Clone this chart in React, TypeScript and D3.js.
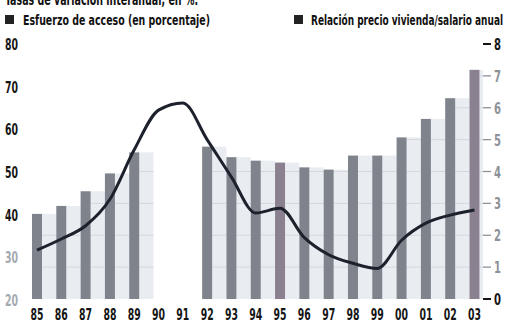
import React, { useEffect } from "react";
import * as d3 from "d3";

const years = ["85","86","87","88","89","90","91","92","93","94","95","96","97","98","99","00","01","02","03"];
// Relación precio vivienda/salario anual (bars, right axis); null = no bar
const ratio: (number | null)[] = [2.67, 2.92, 3.38, 3.94, 4.6, null, null, 4.78, 4.45, 4.34, 4.28, 4.13, 4.06, 4.5, 4.5, 5.07, 5.65, 6.3, 7.19];
// Esfuerzo de acceso (line, left axis, %)
const effort: number[] = [31.7, 34.3, 37.4, 43.6, 55.2, 64.5, 66.2, 57.6, 48.8, 40.4, 41.5, 34.6, 30.6, 28.6, 27.4, 34.0, 38.0, 39.9, 41.1];
const leftTicks = [20, 30, 40, 50, 60, 70, 80];
const rightTicks = [0, 1, 2, 3, 4, 5, 6, 7, 8];
const title = "Tasas de variación interanual, en %.";
const legendLeft = "Esfuerzo de acceso (en porcentaje)";
const legendRight = "Relación precio vivienda/salario anual";

const FONT = "'DejaVu Sans Condensed', 'Liberation Sans Narrow', 'Open Sans', sans-serif";

export default function App() {
  useEffect(() => {
    document.body.style.margin = "0";
  }, []);

  const x = d3.scalePoint<string>().domain(years).range([37, 474.5]);
  const step = x.step();
  const yL = d3.scaleLinear().domain([20, 80]).range([300, 44]);
  const yR = d3.scaleLinear().domain([0, 8]).range([299, 44]);
  const barW = 10;

  const line = d3
    .line<number>()
    .x((_, i) => x(years[i])!)
    .y((d) => yL(d))
    .curve(d3.curveMonotoneX);

  return (
    <svg width={508} height={324} style={{ display: "block", background: "#fff" }} fontFamily={FONT}>
      {/* title, cut off at top as in the reference */}
      <text x={5} y={5} fontSize={15} fontWeight="bold" fill="#111" textLength={193} lengthAdjust="spacingAndGlyphs">
        {title}
      </text>
      {/* legend */}
      <rect x={5} y={15} width={9} height={9} fill="#222" />
      <text x={23} y={25} fontSize={14.5} fontWeight="bold" fill="#111" textLength={187} lengthAdjust="spacingAndGlyphs">
        {legendLeft}
      </text>
      <rect x={294} y={15} width={9} height={9} fill="#222" />
      <text x={311} y={25} fontSize={14.5} fontWeight="bold" fill="#111" textLength={192} lengthAdjust="spacingAndGlyphs">
        {legendRight}
      </text>

      {/* bars: light band + dark bar */}
      {ratio.map((v, i) => {
        if (v == null) return null;
        const cx = x(years[i])!;
        const nextLeft = i === years.length - 1 ? 483 : cx + step - barW / 2;
        const lx = cx + barW / 2;
        const top = yR(v);
        const purple = years[i] === "03" || years[i] === "95";
        return (
          <g key={years[i]}>
            <rect x={lx} y={top} width={nextLeft - lx} height={yR(0) - top} fill="#e9ecf1" />
            {rightTicks
              .filter((t) => t > 0 && t < v)
              .map((t) => (
                <line key={t} x1={lx} x2={nextLeft} y1={yR(t)} y2={yR(t)} stroke="#d4d8de" strokeWidth={1} />
              ))}
            <rect x={cx - barW / 2} y={top} width={barW} height={yR(0) - top} fill={purple ? "#8a8090" : "#7e838c"} />
          </g>
        );
      })}

      {/* line */}
      <path d={line(effort) || ""} fill="none" stroke="#1d212c" strokeWidth={3} strokeLinejoin="round" />

      {/* left axis labels */}
      {leftTicks.map((t) => (
        <text
          key={t}
          x={5}
          y={yL(t) + 6}
          fontSize={15}
          fontWeight="bold"
          fill={t <= 30 ? "#a4a9b0" : "#151515"}
          textLength={13}
          lengthAdjust="spacingAndGlyphs"
        >
          {t}
        </text>
      ))}

      {/* right axis ticks & labels */}
      {rightTicks.map((t) => {
        const strong = t === 0 || t === 8;
        const col = strong ? "#151515" : "#8d9299";
        return (
          <g key={t}>
            <line x1={483} x2={491} y1={yR(t)} y2={yR(t)} stroke={col} strokeWidth={strong ? 2 : 1.3} />
            <text x={494} y={yR(t) + 6} fontSize={15} fontWeight="bold" fill={col} textLength={7} lengthAdjust="spacingAndGlyphs">
              {t}
            </text>
          </g>
        );
      })}

      {/* x axis labels */}
      {years.map((yv) => (
        <text
          key={yv}
          x={x(yv)!}
          y={320}
          fontSize={15}
          fontWeight="bold"
          fill="#151515"
          textAnchor="middle"
          textLength={13}
          lengthAdjust="spacingAndGlyphs"
        >
          {yv}
        </text>
      ))}
    </svg>
  );
}
